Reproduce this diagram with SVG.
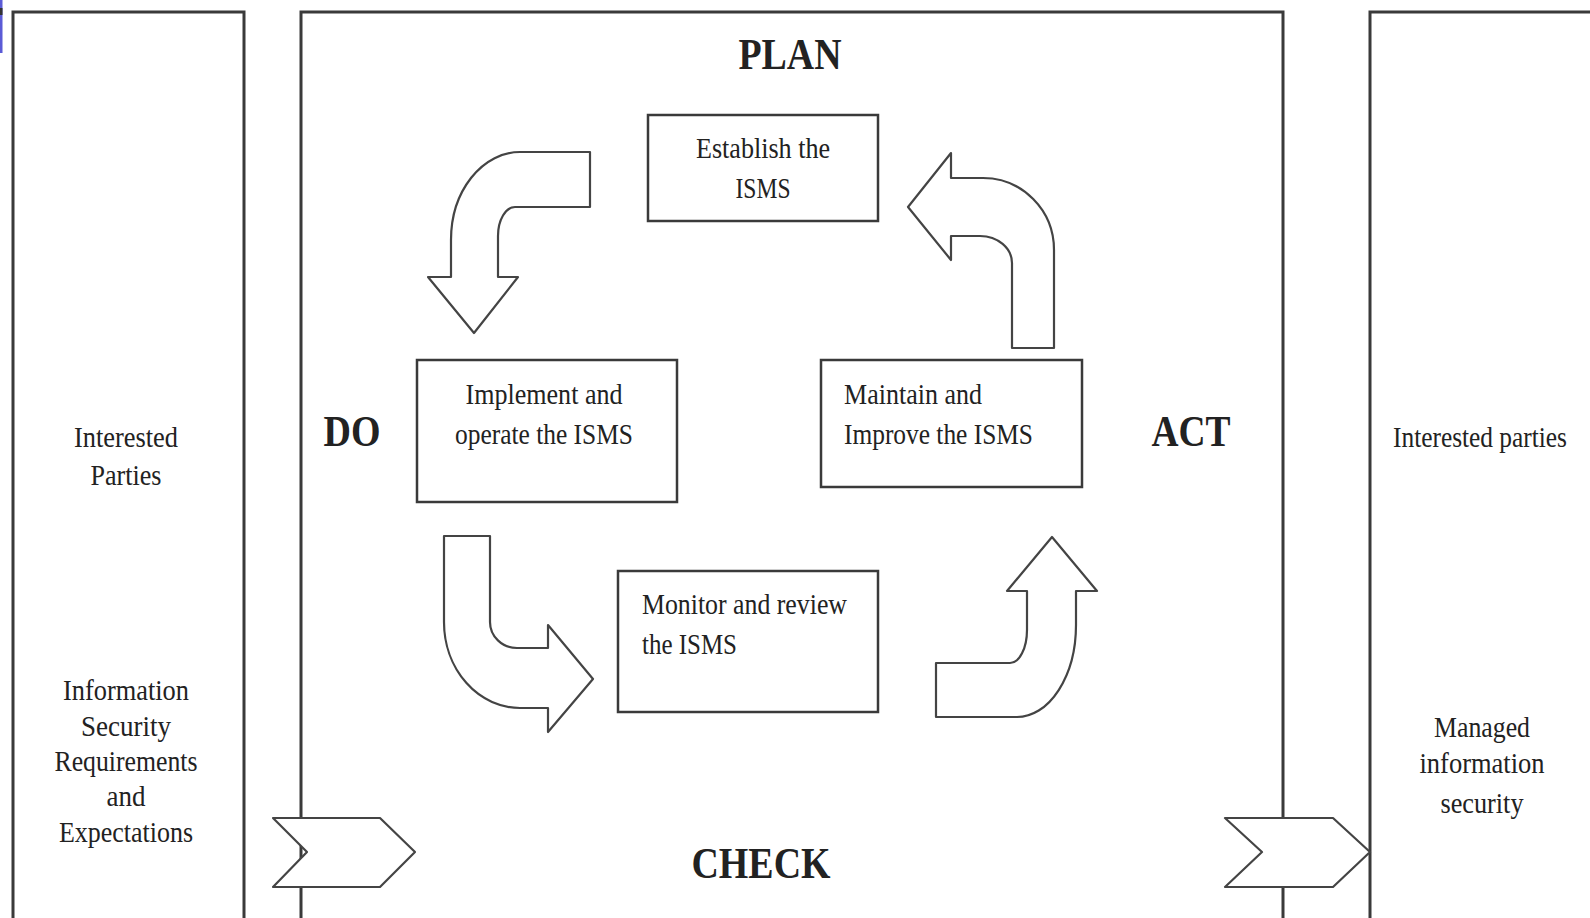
<svg xmlns="http://www.w3.org/2000/svg" width="1590" height="918" viewBox="0 0 1590 918">
<style>
.frame{fill:none;stroke:#3a3a3a;stroke-width:3}
.box{fill:#fff;stroke:#3a3a3a;stroke-width:2.5}
.arr{fill:#fff;stroke:#444;stroke-width:2.2;stroke-linejoin:round}
.t{font-family:"Liberation Serif","Times New Roman",serif;font-size:30px;fill:#222}
.c{text-anchor:middle}
.h{font-family:"Liberation Serif","Times New Roman",serif;font-size:44px;font-weight:bold;fill:#222}
</style>
<rect width="1590" height="918" fill="#fff"/>
<rect x="0" y="0" width="2.5" height="53" fill="#5b5bd6"/>
<rect x="0" y="8" width="2.5" height="7" fill="#333"/>

<g id="frames">
<path class="frame" d="M13,920 L13,12 L244,12 L244,920"/>
<path class="frame" d="M301,920 L301,12 L1283,12 L1283,920"/>
<path class="frame" d="M1370,920 L1370,12 L1592,12"/>
</g>

<g id="left-panel">
<text class="t c" x="126" y="447" textLength="104" lengthAdjust="spacingAndGlyphs">Interested</text>
<text class="t c" x="126" y="485" textLength="71" lengthAdjust="spacingAndGlyphs">Parties</text>
<text class="t c" x="126" y="700" textLength="126" lengthAdjust="spacingAndGlyphs">Information</text>
<text class="t c" x="126" y="736" textLength="90" lengthAdjust="spacingAndGlyphs">Security</text>
<text class="t c" x="126" y="771" textLength="143" lengthAdjust="spacingAndGlyphs">Requirements</text>
<text class="t c" x="126" y="806" textLength="39" lengthAdjust="spacingAndGlyphs">and</text>
<text class="t c" x="126" y="842" textLength="134" lengthAdjust="spacingAndGlyphs">Expectations</text>
</g>

<g id="right-panel">
<text class="t c" x="1480" y="447" textLength="174" lengthAdjust="spacingAndGlyphs">Interested parties</text>
<text class="t c" x="1482" y="737" textLength="96" lengthAdjust="spacingAndGlyphs">Managed</text>
<text class="t c" x="1482" y="773" textLength="125" lengthAdjust="spacingAndGlyphs">information</text>
<text class="t c" x="1482" y="813" textLength="83" lengthAdjust="spacingAndGlyphs">security</text>
</g>

<g id="labels">
<text class="h c" x="790" y="69" textLength="103" lengthAdjust="spacingAndGlyphs">PLAN</text>
<text class="h c" x="352" y="446" textLength="57" lengthAdjust="spacingAndGlyphs">DO</text>
<text class="h c" x="1191" y="446" textLength="79" lengthAdjust="spacingAndGlyphs">ACT</text>
<text class="h c" x="761" y="878" textLength="139" lengthAdjust="spacingAndGlyphs">CHECK</text>
</g>

<g id="connectors">
<path class="arr" d="M590,152 L520,152 A69,88 0 0 0 451,240 L451,277 L428,277 L474,333 L518,277 L498,277 L498,236 A17,29 0 0 1 515,207 L590,207 Z"/>
<path class="arr" d="M1012,348 L1054,348 L1054,250 A71,72 0 0 0 983,178 L951,178 L951,153 L908,207 L951,260 L951,236 L980,236 A32,27 0 0 1 1012,263 Z"/>
<path class="arr" d="M444,536 L490,536 L490,622 A27,26 0 0 0 517,648 L548,648 L548,625 L593,679 L548,732 L548,708 L520,708 A76,86 0 0 1 444,622 Z"/>
<path class="arr" d="M936,663 L1010,663 A17,33 0 0 0 1027,630 L1027,591 L1007,591 L1052,537 L1097,591 L1076,591 L1076,625 A59,92 0 0 1 1017,717 L936,717 Z"/>
<path class="arr" d="M273,818 L380,818 L415,852 L380,887 L273,887 L307,852 Z"/>
<path class="arr" d="M1225,818 L1333,818 L1370,852 L1333,887 L1225,887 L1262,852 Z"/>
</g>

<g id="establish">
<rect class="box" x="648" y="115" width="230" height="106"/>
<text class="t c" x="763" y="158" textLength="134" lengthAdjust="spacingAndGlyphs">Establish the</text>
<text class="t c" x="763" y="198" textLength="55" lengthAdjust="spacingAndGlyphs">ISMS</text>
</g>

<g id="implement">
<rect class="box" x="417" y="360" width="260" height="142"/>
<text class="t c" x="544" y="404" textLength="157" lengthAdjust="spacingAndGlyphs">Implement and</text>
<text class="t c" x="544" y="444" textLength="178" lengthAdjust="spacingAndGlyphs">operate the ISMS</text>
</g>

<g id="maintain">
<rect class="box" x="821" y="360" width="261" height="127"/>
<text class="t" x="844" y="404" textLength="138" lengthAdjust="spacingAndGlyphs">Maintain and</text>
<text class="t" x="844" y="444" textLength="189" lengthAdjust="spacingAndGlyphs">Improve the ISMS</text>
</g>

<g id="monitor">
<rect class="box" x="618" y="571" width="260" height="141"/>
<text class="t" x="642" y="614" textLength="205" lengthAdjust="spacingAndGlyphs">Monitor and review</text>
<text class="t" x="642" y="654" textLength="95" lengthAdjust="spacingAndGlyphs">the ISMS</text>
</g>
</svg>
